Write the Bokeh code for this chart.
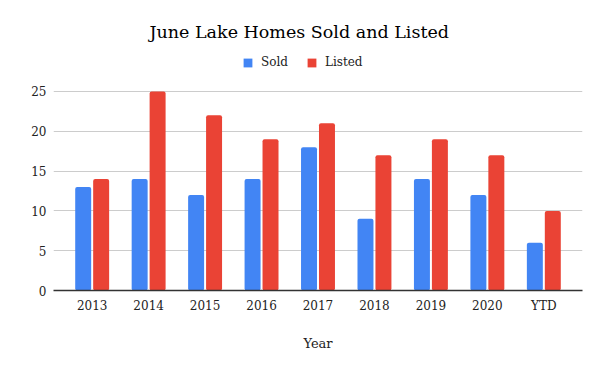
from bokeh.plotting import figure
from bokeh.models import ColumnDataSource, FactorRange, Legend, LegendItem, Range1d
from bokeh.transform import dodge
from bokeh.embed import file_html
from bokeh.resources import INLINE

years = ["2013", "2014", "2015", "2016", "2017", "2018", "2019", "2020", "YTD"]
sold = [13, 14, 12, 14, 18, 9, 14, 12, 6]
listed = [14, 25, 22, 19, 21, 17, 19, 17, 10]
y_ticks = [0, 5, 10, 15, 20, 25]

FONT = "DejaVu Serif"
BLUE = "#4285F4"
RED = "#EA4335"

src = ColumnDataSource(dict(year=years, sold=sold, listed=listed))

p = figure(width=584, height=355, output_backend="svg", toolbar_location=None,
           x_range=FactorRange(factors=years, range_padding=0.185, range_padding_units="absolute"),
           y_range=Range1d(0, 31.4),
           min_border_left=53, min_border_right=2, min_border_top=40, min_border_bottom=65)

r1 = p.vbar(x=dodge("year", -0.159, range=p.x_range), top="sold", width=0.283, source=src,
            fill_color=BLUE, line_color=None, border_radius=2)
r2 = p.vbar(x=dodge("year", 0.159, range=p.x_range), top="listed", width=0.283, source=src,
            fill_color=RED, line_color=None, border_radius=2)

p.title.text = "June Lake Homes Sold and Listed"
p.title.align = "left"
p.title.offset = 96
p.title.standoff = -3
p.title.text_font = FONT
p.title.text_font_size = "17.5px"
p.title.text_font_style = "normal"
p.title.text_color = "#000000"

legend = Legend(items=[LegendItem(label="Sold", renderers=[r1]),
                       LegendItem(label="Listed", renderers=[r2])],
                orientation="horizontal", location=(189, 221),
                glyph_width=11, glyph_height=11, label_standoff=8, spacing=18,
                label_text_font=FONT, label_text_font_size="12px", label_text_color="#222222",
                border_line_color=None, background_fill_alpha=0, padding=4, margin=0)
p.add_layout(legend)

p.outline_line_color = None
p.xgrid.grid_line_color = None
p.ygrid.grid_line_color = "#cccccc"
p.yaxis.ticker = y_ticks
p.yaxis.axis_line_color = None
p.yaxis.major_tick_line_color = None
p.yaxis.minor_tick_line_color = None
p.yaxis.major_tick_out = 0
p.yaxis.major_label_standoff = 7
p.yaxis.major_label_text_font = FONT
p.yaxis.major_label_text_font_size = "12px"
p.yaxis.major_label_text_color = "#222222"

p.xaxis.axis_line_color = "#333333"
p.xaxis.axis_line_width = 1.5
p.xaxis.major_tick_line_color = None
p.xaxis.major_tick_out = 0
p.xaxis.major_tick_in = 0
p.xaxis.major_label_standoff = 8
p.xaxis.major_label_text_font = FONT
p.xaxis.major_label_text_font_size = "12px"
p.xaxis.major_label_text_color = "#222222"
p.xaxis.axis_label = "Year"
p.xaxis.axis_label_text_font = FONT
p.xaxis.axis_label_text_font_size = "13px"
p.xaxis.axis_label_text_font_style = "normal"
p.xaxis.axis_label_text_color = "#222222"
p.xaxis.axis_label_standoff = 20

open("out.html", "w").write(file_html(p, INLINE))
